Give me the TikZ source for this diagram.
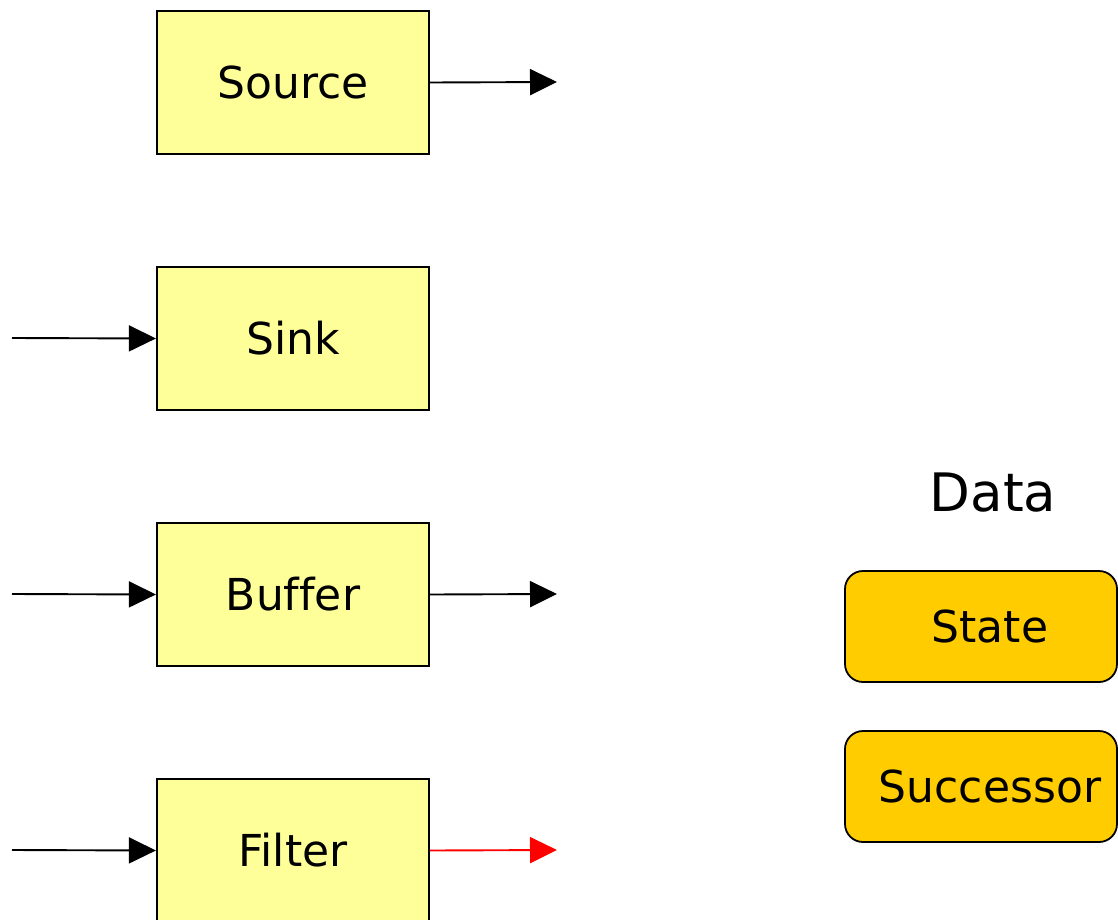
\documentclass[tikz,border=0pt]{standalone}
\usepackage{fontspec}
\setmainfont[Ligatures=NoCommon]{DejaVu Sans}
\usetikzlibrary{arrows.meta}
\definecolor{procfill}{HTML}{FFFF99}
\definecolor{datafill}{HTML}{FFCC00}
\begin{document}
\begin{tikzpicture}[x=1pt,y=-1pt,
  procbox/.style={draw=black, line width=2.2pt, fill=procfill, rectangle,
    minimum width=272pt, minimum height=143pt, inner sep=0pt,
    font=\fontsize{44}{50}\selectfont},
  databox/.style={draw=black, line width=1.8pt, fill=datafill, rectangle,
    rounded corners=18pt, minimum width=272pt, minimum height=111pt, inner sep=0pt,
    font=\fontsize{44}{50}\selectfont},
  flow/.style={line width=1.9pt, -{Triangle[length=27pt,width=26pt]}},
  redflow/.style={flow, draw=red, fill=red}]
\useasboundingbox (0,0) rectangle (1118,920);

% process blocks
\node[procbox] (src) at (293,82.5) {Source};
\node[procbox] (snk) at (293,338.5) {Sink};
\node[procbox] (buf) at (293,594.5) {Buffer};
\node[procbox] (flt) at (293,850.5) {Filter};

% open ends of the streams
\coordinate (srcout) at (557,82);
\coordinate (snkin)  at (12,338);
\coordinate (bufin)  at (12,594);
\coordinate (bufout) at (557,594);
\coordinate (fltin)  at (12,850);
\coordinate (fltout) at (557,850);

\draw[flow] (src.east) -- (srcout);
\draw[flow] (snkin) -- (snk.west);
\draw[flow] (bufin) -- (buf.west);
\draw[flow] (buf.east) -- (bufout);
\draw[flow] (fltin) -- (flt.west);
\draw[redflow] (flt.east) -- (fltout);

% data items
\node[font=\fontsize{53}{60}\selectfont] (datattl) at (993,493) {Data};
\node[databox] (state) at (981,626.5) {\hspace*{18pt}State};
\node[databox] (succ)  at (981,786.5) {\hspace*{18pt}Successor};
\end{tikzpicture}
\end{document}
